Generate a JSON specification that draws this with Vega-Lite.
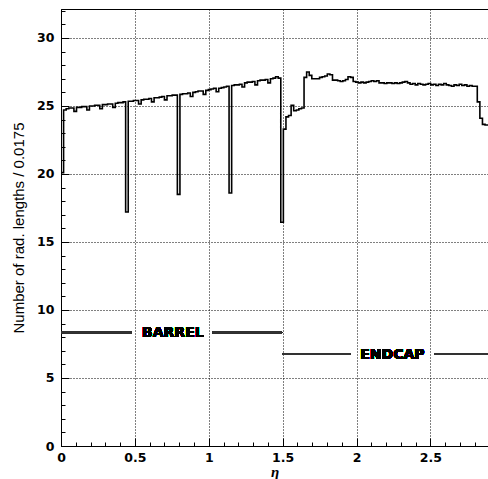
{
  "$schema": "https://vega.github.io/schema/vega-lite/v6.json",
  "width": 427,
  "height": 437,
  "autosize": "none",
  "padding": {"left": 61, "top": 9, "right": 0, "bottom": 33},
  "background": "white",
  "config": {
    "view": {"stroke": "black", "strokeWidth": 1},
    "axis": {
      "domainColor": "black",
      "domainWidth": 1,
      "tickColor": "black",
      "gridColor": "black",
      "gridDash": [1, 2],
      "gridWidth": 1,
      "labelFont": "DejaVu Sans",
      "labelFontWeight": "bold",
      "labelFontSize": 12.5,
      "labelColor": "black",
      "titleColor": "black",
      "labelOverlap": false,
      "labelFlush": false,
      "tickCount": 200
    }
  },
  "data": {
    "values": [
      {"eta": 0, "nrl": 20.1}, {"eta": 0.0175, "nrl": 24.7}, {"eta": 0.035, "nrl": 24.8}, {"eta": 0.0525, "nrl": 24.85}, {"eta": 0.07, "nrl": 24.85},
      {"eta": 0.0875, "nrl": 24.6}, {"eta": 0.105, "nrl": 24.9}, {"eta": 0.1225, "nrl": 24.9}, {"eta": 0.14, "nrl": 24.95}, {"eta": 0.1575, "nrl": 24.95},
      {"eta": 0.175, "nrl": 24.7}, {"eta": 0.1925, "nrl": 25.0}, {"eta": 0.21, "nrl": 25.0}, {"eta": 0.2275, "nrl": 25.05}, {"eta": 0.245, "nrl": 25.05},
      {"eta": 0.2625, "nrl": 24.8}, {"eta": 0.28, "nrl": 25.1}, {"eta": 0.2975, "nrl": 25.1}, {"eta": 0.315, "nrl": 25.15}, {"eta": 0.3325, "nrl": 25.15},
      {"eta": 0.35, "nrl": 24.9}, {"eta": 0.3675, "nrl": 25.2}, {"eta": 0.385, "nrl": 25.25}, {"eta": 0.4025, "nrl": 25.25}, {"eta": 0.42, "nrl": 25.3},
      {"eta": 0.4375, "nrl": 17.2}, {"eta": 0.455, "nrl": 25.35}, {"eta": 0.4725, "nrl": 25.35}, {"eta": 0.49, "nrl": 25.4}, {"eta": 0.5075, "nrl": 25.4},
      {"eta": 0.525, "nrl": 25.15}, {"eta": 0.5425, "nrl": 25.45}, {"eta": 0.56, "nrl": 25.5}, {"eta": 0.5775, "nrl": 25.5}, {"eta": 0.595, "nrl": 25.55},
      {"eta": 0.6125, "nrl": 25.3}, {"eta": 0.63, "nrl": 25.6}, {"eta": 0.6475, "nrl": 25.6}, {"eta": 0.665, "nrl": 25.65}, {"eta": 0.6825, "nrl": 25.7},
      {"eta": 0.7, "nrl": 25.45}, {"eta": 0.7175, "nrl": 25.75}, {"eta": 0.735, "nrl": 25.75}, {"eta": 0.7525, "nrl": 25.8}, {"eta": 0.77, "nrl": 25.8},
      {"eta": 0.7875, "nrl": 18.5}, {"eta": 0.805, "nrl": 25.85}, {"eta": 0.8225, "nrl": 25.9}, {"eta": 0.84, "nrl": 25.9}, {"eta": 0.8575, "nrl": 25.95},
      {"eta": 0.875, "nrl": 25.7}, {"eta": 0.8925, "nrl": 26.0}, {"eta": 0.91, "nrl": 26.05}, {"eta": 0.9275, "nrl": 26.1}, {"eta": 0.945, "nrl": 26.1},
      {"eta": 0.9625, "nrl": 25.85}, {"eta": 0.98, "nrl": 26.15}, {"eta": 0.9975, "nrl": 26.2}, {"eta": 1.015, "nrl": 26.25}, {"eta": 1.0325, "nrl": 26.3},
      {"eta": 1.05, "nrl": 26.05}, {"eta": 1.0675, "nrl": 26.3}, {"eta": 1.085, "nrl": 26.35}, {"eta": 1.1025, "nrl": 26.4}, {"eta": 1.12, "nrl": 26.45},
      {"eta": 1.1375, "nrl": 18.6}, {"eta": 1.155, "nrl": 26.5}, {"eta": 1.1725, "nrl": 26.55}, {"eta": 1.19, "nrl": 26.55}, {"eta": 1.2075, "nrl": 26.6},
      {"eta": 1.225, "nrl": 26.4}, {"eta": 1.2425, "nrl": 26.7}, {"eta": 1.26, "nrl": 26.75}, {"eta": 1.2775, "nrl": 26.75}, {"eta": 1.295, "nrl": 26.8},
      {"eta": 1.3125, "nrl": 26.55}, {"eta": 1.33, "nrl": 26.85}, {"eta": 1.3475, "nrl": 26.9}, {"eta": 1.365, "nrl": 26.9}, {"eta": 1.3825, "nrl": 26.95},
      {"eta": 1.4, "nrl": 26.7}, {"eta": 1.4175, "nrl": 27.0}, {"eta": 1.435, "nrl": 27.05}, {"eta": 1.4525, "nrl": 27.15}, {"eta": 1.47, "nrl": 27.05},
      {"eta": 1.4875, "nrl": 16.45}, {"eta": 1.505, "nrl": 23.3}, {"eta": 1.5225, "nrl": 24.2}, {"eta": 1.54, "nrl": 24.3}, {"eta": 1.5575, "nrl": 25.05},
      {"eta": 1.575, "nrl": 24.65}, {"eta": 1.5925, "nrl": 24.7}, {"eta": 1.61, "nrl": 24.8}, {"eta": 1.6275, "nrl": 24.85}, {"eta": 1.645, "nrl": 27.1},
      {"eta": 1.6625, "nrl": 27.5}, {"eta": 1.68, "nrl": 27.25}, {"eta": 1.6975, "nrl": 27.0}, {"eta": 1.715, "nrl": 27.0}, {"eta": 1.7325, "nrl": 27.0},
      {"eta": 1.75, "nrl": 27.1}, {"eta": 1.7675, "nrl": 27.15}, {"eta": 1.785, "nrl": 27.2}, {"eta": 1.8025, "nrl": 27.35}, {"eta": 1.82, "nrl": 27.3},
      {"eta": 1.8375, "nrl": 26.9}, {"eta": 1.855, "nrl": 26.9}, {"eta": 1.8725, "nrl": 26.85}, {"eta": 1.89, "nrl": 26.8}, {"eta": 1.9075, "nrl": 26.85},
      {"eta": 1.925, "nrl": 26.95}, {"eta": 1.9425, "nrl": 27.15}, {"eta": 1.96, "nrl": 27.1}, {"eta": 1.9775, "nrl": 26.8}, {"eta": 1.995, "nrl": 26.75},
      {"eta": 2.0125, "nrl": 26.7}, {"eta": 2.03, "nrl": 26.75}, {"eta": 2.0475, "nrl": 26.7}, {"eta": 2.065, "nrl": 26.75}, {"eta": 2.0825, "nrl": 26.8},
      {"eta": 2.1, "nrl": 26.85}, {"eta": 2.1175, "nrl": 26.8}, {"eta": 2.135, "nrl": 26.85}, {"eta": 2.1525, "nrl": 26.7}, {"eta": 2.17, "nrl": 26.7},
      {"eta": 2.1875, "nrl": 26.65}, {"eta": 2.205, "nrl": 26.7}, {"eta": 2.2225, "nrl": 26.7}, {"eta": 2.24, "nrl": 26.65}, {"eta": 2.2575, "nrl": 26.7},
      {"eta": 2.275, "nrl": 26.65}, {"eta": 2.2925, "nrl": 26.7}, {"eta": 2.31, "nrl": 26.75}, {"eta": 2.3275, "nrl": 26.8}, {"eta": 2.345, "nrl": 26.7},
      {"eta": 2.3625, "nrl": 26.6}, {"eta": 2.38, "nrl": 26.65}, {"eta": 2.3975, "nrl": 26.55}, {"eta": 2.415, "nrl": 26.65}, {"eta": 2.4325, "nrl": 26.6},
      {"eta": 2.45, "nrl": 26.55}, {"eta": 2.4675, "nrl": 26.6}, {"eta": 2.485, "nrl": 26.65}, {"eta": 2.5025, "nrl": 26.55}, {"eta": 2.52, "nrl": 26.6},
      {"eta": 2.5375, "nrl": 26.5}, {"eta": 2.555, "nrl": 26.6}, {"eta": 2.5725, "nrl": 26.55}, {"eta": 2.59, "nrl": 26.65}, {"eta": 2.6075, "nrl": 26.55},
      {"eta": 2.625, "nrl": 26.5}, {"eta": 2.6425, "nrl": 26.45}, {"eta": 2.66, "nrl": 26.55}, {"eta": 2.6775, "nrl": 26.5}, {"eta": 2.695, "nrl": 26.6},
      {"eta": 2.7125, "nrl": 26.5}, {"eta": 2.73, "nrl": 26.55}, {"eta": 2.7475, "nrl": 26.45}, {"eta": 2.765, "nrl": 26.5}, {"eta": 2.7825, "nrl": 26.45},
      {"eta": 2.8, "nrl": 26.45}, {"eta": 2.8175, "nrl": 25.3}, {"eta": 2.835, "nrl": 24.1}, {"eta": 2.8525, "nrl": 23.65}, {"eta": 2.87, "nrl": 23.6},
      {"eta": 2.89, "nrl": 23.6}
    ]
  },
  "layer": [
    {
      "mark": {"type": "line", "interpolate": "step-after", "color": "black", "strokeWidth": 1.6, "clip": true},
      "encoding": {
        "x": {
          "field": "eta", "type": "quantitative",
          "scale": {"domain": [0, 2.89], "nice": false, "zero": false},
          "axis": {
            "title": "η",
            "titleFont": "Liberation Serif",
            "titleFontStyle": "italic",
            "titleFontWeight": "bold",
            "titleFontSize": 15,
            "titlePadding": -3,
            "values": [0,0.1,0.2,0.3,0.4,0.5,0.6,0.7,0.8,0.9,1,1.1,1.2,1.3,1.4,1.5,1.6,1.7,1.8,1.9,2,2.1,2.2,2.3,2.4,2.5,2.6,2.7,2.8],
            "labelExpr": "abs(datum.value*2 - round(datum.value*2)) < 0.001 ? format(datum.value, '~g') : ''",
            "labelPadding": 13,
            "tickSize": {"condition": {"test": "abs(datum.value*2 - round(datum.value*2)) < 0.001", "value": -8}, "value": -4},
            "gridOpacity": {"condition": {"test": "abs(datum.value*2 - round(datum.value*2)) < 0.001", "value": 1}, "value": 0}
          }
        },
        "y": {
          "field": "nrl", "type": "quantitative",
          "scale": {"domain": [0, 32.13], "nice": false, "zero": false},
          "axis": {
            "title": "Number of rad. lengths / 0.0175",
            "titleFont": "Liberation Sans",
            "titleFontWeight": "normal",
            "titleFontSize": 15,
            "titlePadding": 10,
            "values": [0,1,2,3,4,5,6,7,8,9,10,11,12,13,14,15,16,17,18,19,20,21,22,23,24,25,26,27,28,29,30,31,32],
            "labelExpr": "datum.value % 5 === 0 ? format(datum.value, 'd') : ''",
            "labelPadding": 15,
            "tickSize": {"condition": {"test": "datum.value % 5 === 0", "value": -8}, "value": -4},
            "gridOpacity": {"condition": {"test": "datum.value % 5 === 0", "value": 1}, "value": 0}
          }
        }
      }
    },
    {
      "mark": {"type": "rule", "color": "#333333", "strokeWidth": 1.5},
      "encoding": {"x": {"datum": 0}, "x2": {"datum": 0.476}, "y": {"datum": 8.34}}
    },
    {
      "mark": {"type": "rule", "color": "#333333", "strokeWidth": 1.5},
      "encoding": {"x": {"datum": 1.027}, "x2": {"datum": 1.496}, "y": {"datum": 8.34}}
    },
    {
      "mark": {"type": "rule", "color": "#333333", "strokeWidth": 1.5},
      "encoding": {"x": {"datum": 1.496}, "x2": {"datum": 1.962}, "y": {"datum": 6.74}}
    },
    {
      "mark": {"type": "rule", "color": "#333333", "strokeWidth": 1.5},
      "encoding": {"x": {"datum": 2.525}, "x2": {"datum": 2.89}, "y": {"datum": 6.74}}
    },
    {
      "mark": {"type": "text", "text": "BARREL", "font": "DejaVu Sans", "fontWeight": "bold", "fontSize": 14, "color": "black", "baseline": "middle", "align": "center"},
      "encoding": {"x": {"datum": 0.757}, "y": {"datum": 8.3}}
    },
    {
      "mark": {"type": "text", "text": "ENDCAP", "font": "DejaVu Sans", "fontWeight": "bold", "fontSize": 14, "color": "black", "baseline": "middle", "align": "center"},
      "encoding": {"x": {"datum": 2.243}, "y": {"datum": 6.7}}
    }
  ]
}
